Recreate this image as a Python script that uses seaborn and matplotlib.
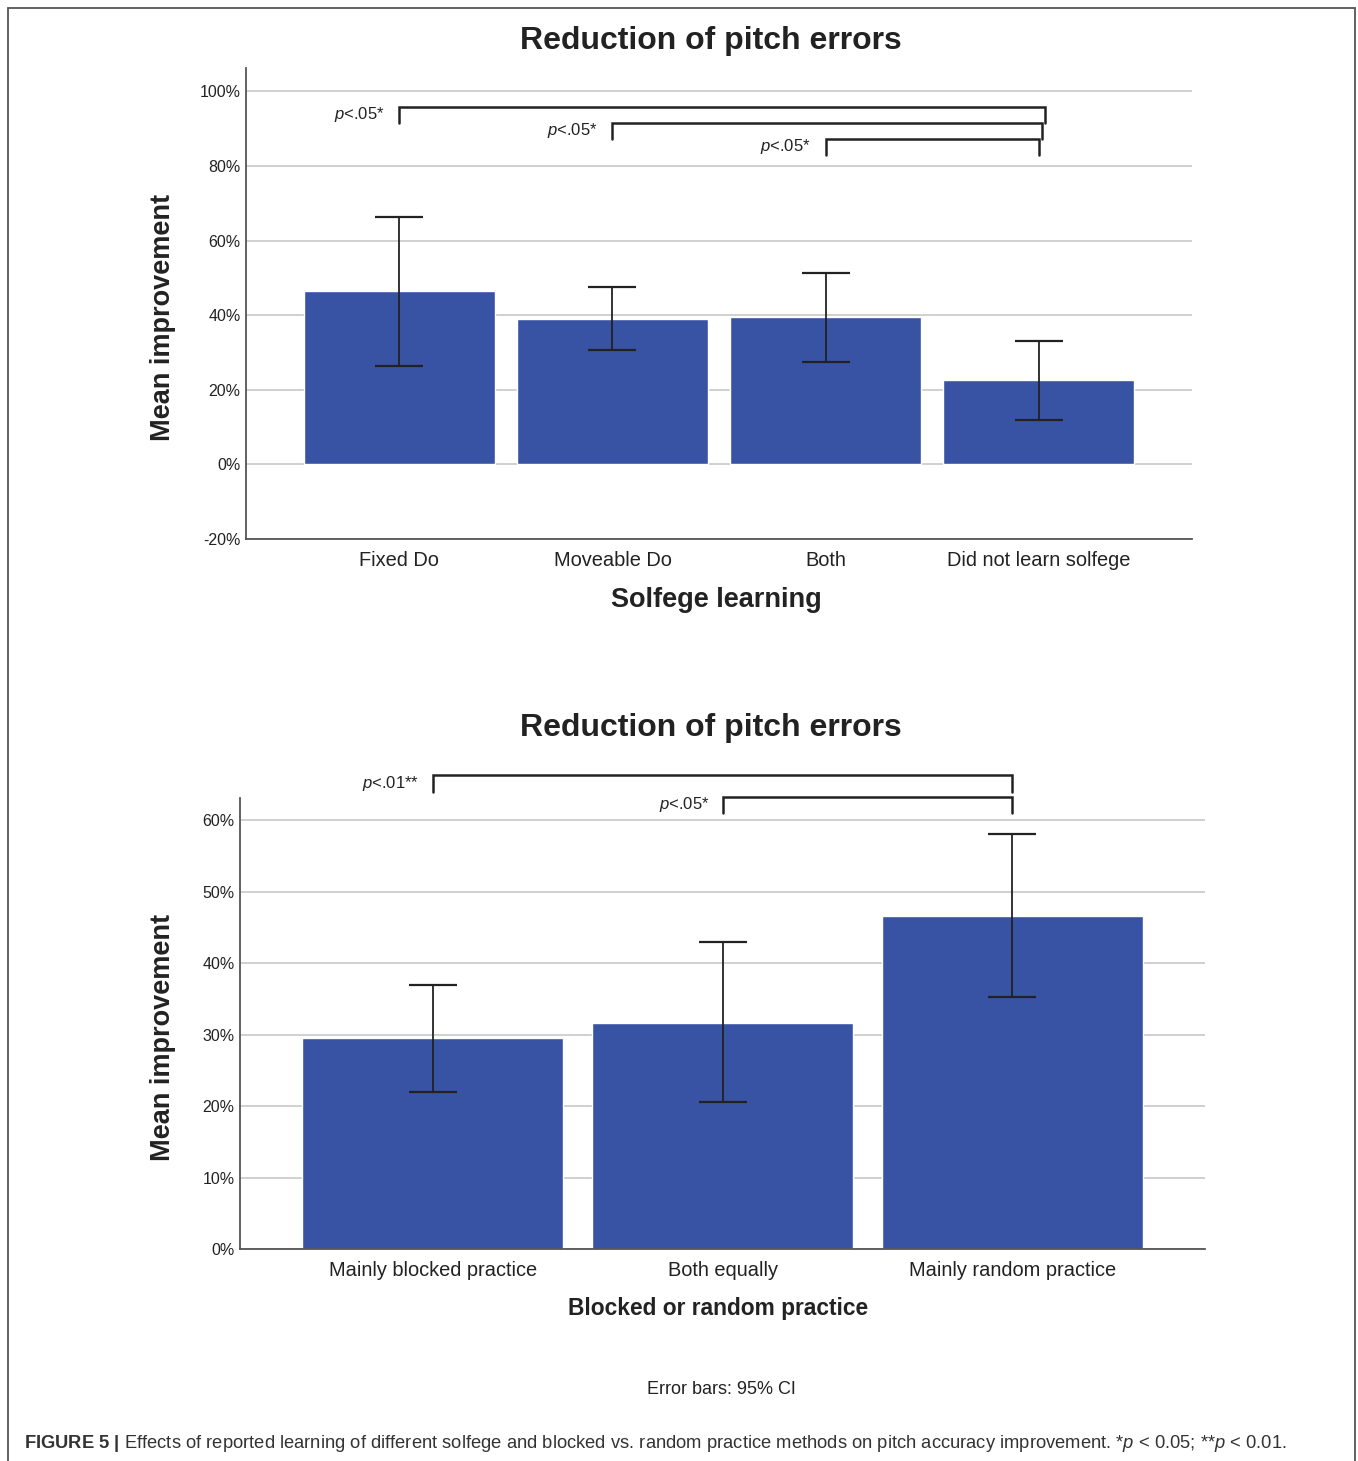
import numpy as np
import pandas as pd
import seaborn as sns
import matplotlib.pyplot as plt
from matplotlib.ticker import FuncFormatter, MultipleLocator
from matplotlib.patches import Rectangle

# valori (percentuali)
solfege = ["Fixed Do", "Moveable Do", "Both", "Did not learn solfege"]
solfege_mean = [46.5, 39.0, 39.5, 22.6]
solfege_lo = [26.5, 30.6, 27.5, 12.0]
solfege_hi = [66.4, 47.7, 51.4, 33.1]

practice = ["Mainly blocked practice", "Both equally", "Mainly random practice"]
practice_mean = [29.5, 31.6, 46.6]
practice_lo = [22.0, 20.5, 35.2]
practice_hi = [37.0, 42.9, 58.0]

# confronti significativi: (gruppo a, gruppo b, etichetta)
solfege_sig = [(0, 3, "<.05*"), (1, 3, "<.05*"), (2, 3, "<.05*")]
practice_sig = [(0, 2, "<.01**"), (1, 2, "<.05*")]

sns.set_theme(style="white")
plt.rcParams['font.family'] = ['Liberation Sans', 'DejaVu Sans']
plt.rcParams['mathtext.fontset'] = 'custom'
plt.rcParams['mathtext.rm'] = 'Liberation Sans'
plt.rcParams['mathtext.it'] = 'Liberation Sans:italic'
plt.rcParams['mathtext.bf'] = 'Liberation Sans:bold'

BLUE = "#3953a4"
W, H = 1358, 1461
fig = plt.figure(figsize=(W / 100, H / 100), dpi=100)


def pct(v, pos):
    return f"{v:.0f}%"


def draw(ax, cats, mean, lo, hi, ylim, step, xlim):
    df = pd.DataFrame({"cat": cats, "mean": mean})
    sns.barplot(data=df, x="cat", y="mean", color=BLUE, saturation=1,
                width=0.9, errorbar=None, ax=ax, zorder=2)
    m = np.array(mean)
    ax.errorbar(np.arange(len(cats)), m, yerr=[m - np.array(lo), np.array(hi) - m],
                fmt="none", ecolor="#222222", elinewidth=1.3, capsize=17,
                capthick=1.6, zorder=3)
    ax.set_ylim(*ylim)
    ax.set_xlim(*xlim)
    ax.yaxis.set_major_locator(MultipleLocator(step))
    ax.yaxis.set_major_formatter(FuncFormatter(pct))
    ax.yaxis.grid(True, color="#c8c8c8", lw=1.2)
    ax.set_axisbelow(True)
    sns.despine(ax=ax)
    for s in ["left", "bottom"]:
        ax.spines[s].set_color("#555555")
        ax.spines[s].set_linewidth(1.3)
    ax.tick_params(axis="y", length=0, pad=4, labelsize=11.5, colors="#222222")
    ax.tick_params(axis="x", length=0, pad=9, labelsize=14.4, colors="#222222")


def brackets(ax, sig, ys, drop, dx_lbl, stagger=0.0):
    for i, ((a, b, lbl), y) in enumerate(zip(sig, ys)):
        xb = b + stagger * (len(sig) - 1 - i)
        ax.plot([a, a, xb, xb], [y - drop, y, y, y - drop], color="#222222",
                lw=1.8, clip_on=False, solid_joinstyle="miter")
        ax.text(a - dx_lbl, y - drop / 2, r"$\it{p}$" + lbl, ha="right",
                va="center", fontsize=12, color="#222222")


# grafico superiore
ax1 = fig.add_axes([246 / W, 1 - 539 / H, 946 / W, 471 / H])
draw(ax1, solfege, solfege_mean, solfege_lo, solfege_hi, (-20, 106.3), 20, (-0.72, 3.72))
brackets(ax1, solfege_sig, [95.9, 91.6, 87.3], 4.3, 0.07, stagger=0.014)
ax1.set_xlabel("Solfege learning", fontsize=19.5, fontweight="bold", color="#222222")
ax1.set_ylabel("Mean improvement", fontsize=19.5, fontweight="bold", color="#222222")
ax1.xaxis.label.set_va("center")
ax1.xaxis.set_label_coords(0.497, -0.1295)
ax1.yaxis.label.set_va("center")
ax1.yaxis.set_label_coords(-0.0877, 0.471)

# grafico inferiore
ax2 = fig.add_axes([240 / W, 1 - 1249 / H, 965 / W, 451 / H])
draw(ax2, practice, practice_mean, practice_lo, practice_hi, (0, 63.1), 10, (-0.665, 2.665))
brackets(ax2, practice_sig, [66.3, 63.3], 2.3, 0.045)
ax2.set_xlabel("Blocked or random practice", fontsize=16.4, fontweight="bold", color="#222222")
ax2.set_ylabel("Mean improvement", fontsize=19.5, fontweight="bold", color="#222222")
ax2.xaxis.label.set_va("center")
ax2.xaxis.set_label_coords(0.495, -0.131)
ax2.yaxis.label.set_va("center")
ax2.yaxis.set_label_coords(-0.0798, 0.470)

# titoli e testi
for ypx in [41, 728]:
    fig.text(711 / W, 1 - ypx / H, "Reduction of pitch errors", ha="center",
             va="center", fontsize=23, fontweight="bold", color="#222222")
fig.text(721 / W, 1 - 1390 / H, "Error bars: 95% CI", ha="center", va="center",
         fontsize=13, color="#222222")
fig.text(24 / W, 1 - 1444 / H,
         r"$\bf{FIGURE\ 5\ |}$ Effects of reported learning of different solfege and "
         r"blocked vs. random practice methods on pitch accuracy improvement. "
         r"*$\it{p}$ < 0.05; **$\it{p}$ < 0.01.",
         ha="left", va="center", fontsize=13.2, color="#333333")

# cornice
fig.patches.append(Rectangle((8 / W, -0.02), 1347 / W, 1 - 8 / H + 0.02,
                             transform=fig.transFigure, fill=False,
                             edgecolor="#555555", lw=1.3))

fig.savefig("out.png", dpi=100)
